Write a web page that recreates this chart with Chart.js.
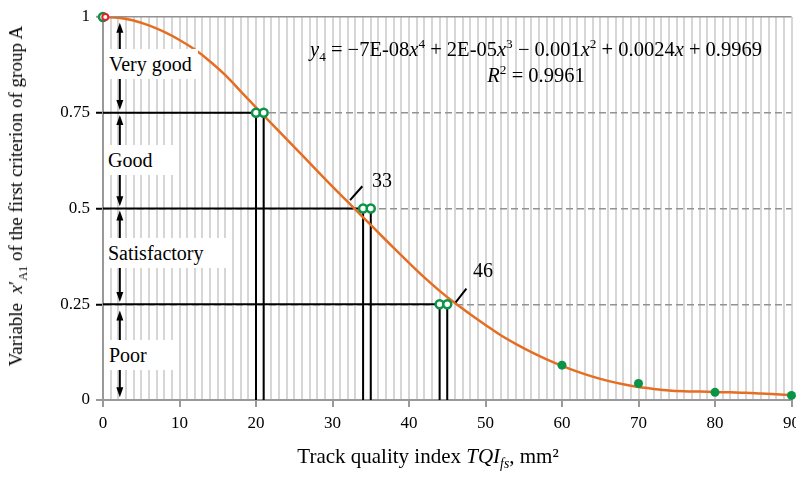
<!DOCTYPE html>
<html>
<head>
<meta charset="utf-8">
<script src="https://cdn.jsdelivr.net/npm/chart.js@4.4.1/dist/chart.umd.min.js"></script>
<style>
  body { margin: 0; width: 796px; height: 479px; overflow: hidden; background: #fff;
         font-family: "Liberation Serif", "DejaVu Serif", serif; color: #000; }
  #wrap { position: relative; width: 806px; height: 479px; }
  canvas { position: absolute; left: 0; top: 0; }
  .band { position: absolute; background: #fff; font-size: 20px; line-height: 30px;
          padding-left: 3px; white-space: nowrap; box-sizing: border-box; }
  .txt { position: absolute; font-size: 20px; white-space: nowrap; }
  sub, sup { font-size: 65%; line-height: 0; }
</style>
</head>
<body>
<div id="wrap">
  <canvas id="chart" width="806" height="479"></canvas>

  <div class="band" style="left:106px; top:49px; width:92px;">Very good</div>
  <div class="band" style="left:105px; top:145px; width:72px;">Good</div>
  <div class="band" style="left:105px; top:238px; width:127px;">Satisfactory</div>
  <div class="band" style="left:106px; top:340px; width:67px;">Poor</div>

  <div class="txt" style="left:300px; top:36px; width:472px; text-align:center; line-height:26px; font-size:20.5px;">
    <i>y</i><sub>4</sub> = −7E-08<i>x</i><sup>4</sup> + 2E-05<i>x</i><sup>3</sup> − 0.001<i>x</i><sup>2</sup> + 0.0024<i>x</i> + 0.9969<br>
    <i>R</i><sup>2</sup> = 0.9961
  </div>

  <div class="txt" style="left:382px; top:180px; transform:translate(-50%,-50%);">33</div>
  <div class="txt" style="left:483px; top:270px; transform:translate(-50%,-50%);">46</div>

  <div class="txt" style="left:428px; top:456px; transform:translate(-50%,-50%); font-size:21px;">
    Track quality index <i>TQI</i><sub><i>fs</i></sub>, mm²
  </div>
  <div class="txt" style="left:16px; top:196px; transform:translate(-50%,-50%) rotate(-90deg); font-size:19px;">
    Variable&nbsp; <i>x</i>′<sub>A1</sub> of the first criterion of group A
  </div>
</div>

<script>
// fitted curve
const curveX = [0, 2, 4, 6, 8, 10, 12, 14, 16, 18, 20, 22, 24, 26, 28, 30, 32, 34, 36, 38, 40, 42, 44,
                46, 48, 50, 52, 54, 56, 58, 60, 62, 64, 66, 68, 70, 72, 74, 76, 78, 80, 82, 84, 86, 88, 90];
const curveY = [1.000, 0.998, 0.991, 0.978, 0.961, 0.940, 0.915, 0.884, 0.848, 0.806, 0.764, 0.722,
                0.681, 0.640, 0.598, 0.557, 0.517, 0.477, 0.437, 0.397, 0.358, 0.320, 0.285, 0.253,
                0.224, 0.196, 0.169, 0.146, 0.125, 0.106, 0.089, 0.074, 0.061, 0.050, 0.041, 0.034,
                0.029, 0.025, 0.023, 0.022, 0.021, 0.020, 0.019, 0.017, 0.015, 0.013];

// measured points
const hollowX = [0, 20, 21, 34, 35, 44, 45];
const hollowY = [1, 0.75, 0.75, 0.5, 0.5, 0.25, 0.25];
const filledX = [60, 70, 80, 90];
const filledY = [0.091, 0.043, 0.020, 0.012];
const redX = [0.3];
const redY = [1];

// class boundaries and where they meet the measured points
const thresholds = [0.75, 0.5, 0.25];
const lowX = [20, 34, 44];
const highX = [21, 35, 45];

const xLabelled = [0, 10, 20, 30, 40, 50, 60, 70, 80, 90];
const yTickLabels = ['0', '0.25', '0.5', '0.75', '1'];

// arrow spans inside each class band, and the two leader strokes
const bandArrows = [[0.985, 0.757], [0.744, 0.506], [0.495, 0.256], [0.234, 0.007]];
const arrowX = 2.2;
const leaders = [[32.3, 0.522, 33.9, 0.558], [46.1, 0.255, 47.5, 0.291]];

const GREEN = '#0a9447';
const ORANGE = '#e66e22';

const pts = (xs, ys) => xs.map((v, i) => ({ x: v, y: ys[i] }));

const refPts = [];
thresholds.forEach((t, i) => {
  refPts.push({ x: 0, y: t }, { x: lowX[i], y: t }, { x: lowX[i], y: null });
  refPts.push({ x: lowX[i], y: t }, { x: lowX[i], y: 0 }, { x: lowX[i], y: null });
  refPts.push({ x: highX[i], y: t }, { x: highX[i], y: 0 }, { x: highX[i], y: null });
});

const annotate = {
  id: 'annotate',
  beforeDatasetsDraw(chart) {
    const { ctx, scales: { x, y } } = chart;
    const px = x.getPixelForValue(arrowX);
    const head = (tip, dir) => {
      ctx.beginPath();
      ctx.moveTo(px, tip);
      ctx.lineTo(px - 3.5, tip + dir * 10);
      ctx.lineTo(px + 3.5, tip + dir * 10);
      ctx.closePath();
      ctx.fill();
    };
    ctx.save();
    ctx.strokeStyle = '#000';
    ctx.fillStyle = '#000';
    ctx.lineWidth = 2;
    bandArrows.forEach(([top, bottom]) => {
      const y1 = y.getPixelForValue(top);
      const y2 = y.getPixelForValue(bottom);
      ctx.beginPath();
      ctx.moveTo(px, y1 + 8);
      ctx.lineTo(px, y2 - 8);
      ctx.stroke();
      head(y1, 1);
      head(y2, -1);
    });
    ctx.restore();
  },
  afterDatasetsDraw(chart) {
    const { ctx, scales: { x, y } } = chart;
    ctx.save();
    ctx.strokeStyle = '#000';
    ctx.lineWidth = 2;
    leaders.forEach(([x1, y1, x2, y2]) => {
      ctx.beginPath();
      ctx.moveTo(x.getPixelForValue(x1), y.getPixelForValue(y1));
      ctx.lineTo(x.getPixelForValue(x2), y.getPixelForValue(y2));
      ctx.stroke();
    });
    ctx.restore();
  }
};

Chart.defaults.font.family = '"Liberation Serif", "DejaVu Serif", serif';
Chart.defaults.font.size = 17;
Chart.defaults.color = '#000';

new Chart(document.getElementById('chart'), {
  type: 'line',
  data: {
    datasets: [
      {
        label: 'hollow',
        data: pts(hollowX, hollowY),
        showLine: false,
        pointRadius: 4,
        pointBorderWidth: 2.5,
        pointBorderColor: GREEN,
        pointBackgroundColor: '#fff',
        clip: false,
        order: 0
      },
      {
        label: 'filled',
        data: pts(filledX, filledY),
        showLine: false,
        pointRadius: 4.5,
        pointBorderWidth: 0,
        pointBackgroundColor: GREEN,
        clip: false,
        order: 0
      },
      {
        label: 'red',
        data: pts(redX, redY),
        showLine: false,
        pointRadius: 3,
        pointBorderWidth: 2,
        pointBorderColor: '#e8202a',
        pointBackgroundColor: '#fff',
        clip: false,
        order: -1
      },
      {
        label: 'curve',
        data: pts(curveX, curveY),
        borderColor: ORANGE,
        borderWidth: 2.5,
        pointRadius: 0,
        cubicInterpolationMode: 'monotone',
        order: 1
      },
      {
        label: 'refs',
        data: refPts,
        borderColor: '#000',
        borderWidth: 2,
        pointRadius: 0,
        spanGaps: false,
        order: 2
      }
    ]
  },
  options: {
    responsive: false,
    animation: false,
    events: [],
    layout: { padding: { top: 17, right: 9, left: 0, bottom: 0 } },
    plugins: { legend: { display: false }, tooltip: { enabled: false } },
    scales: {
      x: {
        type: 'linear',
        min: 0,
        max: 90,
        afterFit(scale) { scale.height = 79; },
        ticks: {
          stepSize: 1,
          autoSkip: false,
          maxRotation: 0,
          padding: 6,
          callback: v => xLabelled.includes(v) ? String(v) : ''
        },
        grid: {
          lineWidth: 2,
          color: c => c.tick && c.tick.value === 0 ? '#999' : '#d6d6d6',
          tickColor: c => c.tick && xLabelled.includes(c.tick.value) ? '#999' : 'rgba(0,0,0,0)',
          tickLength: 7
        },
        border: { color: '#999', width: 2 }
      },
      y: {
        min: 0,
        max: 1,
        afterFit(scale) { scale.width = 103; },
        ticks: {
          stepSize: 0.25,
          padding: 6,
          callback: (v, i) => yTickLabels[i]
        },
        grid: {
          lineWidth: c => c.tick && c.tick.value === 0 ? 0 : 1.5,
          color: '#929292',
          tickColor: c => c.tick && c.tick.value > 0 && c.tick.value < 1 ? '#000' : '#999',
          tickWidth: 2,
          tickLength: 7
        },
        border: {
          color: '#999',
          width: 2,
          dash: c => c.tick && c.tick.value > 0 && c.tick.value < 1 ? [7, 4] : []
        }
      }
    }
  },
  plugins: [annotate]
});
</script>
</body>
</html>
